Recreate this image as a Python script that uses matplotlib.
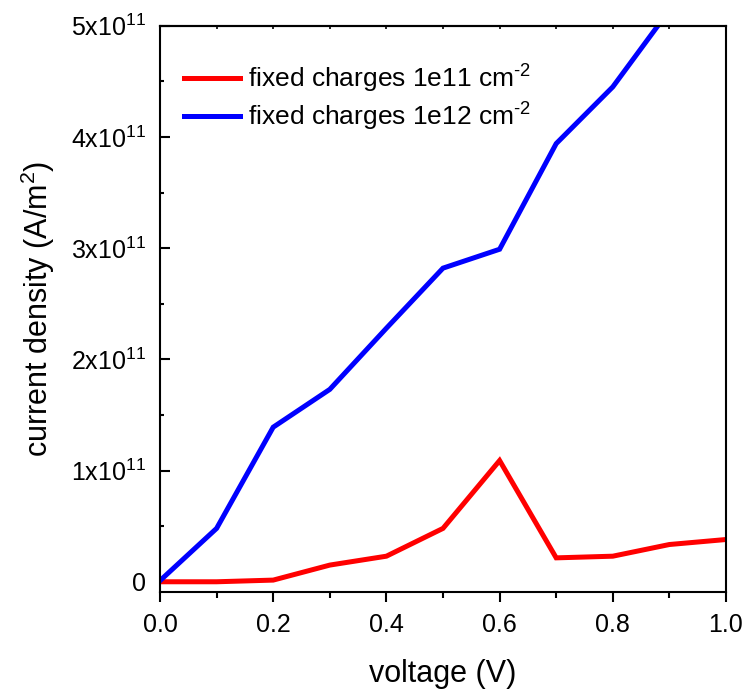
import numpy as np
import matplotlib
matplotlib.use("Agg")
import matplotlib.pyplot as plt
from matplotlib.ticker import MultipleLocator, FixedLocator

plt.rcParams['font.family'] = ['Liberation Sans', 'DejaVu Sans']
plt.rcParams['mathtext.fontset'] = 'custom'
plt.rcParams['mathtext.rm'] = 'Liberation Sans'
plt.rcParams['mathtext.it'] = 'Liberation Sans'
plt.rcParams['mathtext.default'] = 'regular'

# Data: current density vs. applied voltage
voltage = [0.0, 0.1, 0.2, 0.3, 0.4, 0.5, 0.6, 0.7, 0.8, 0.9, 1.0]
j_1e11 = [0.0, 0.0, 0.015, 0.15, 0.23, 0.48, 1.09, 0.215, 0.23, 0.335, 0.38]   # x1e11 A/m^2
j_1e12 = [0.01, 0.48, 1.39, 1.73, 2.28, 2.82, 2.99, 3.94, 4.45, 5.14, 5.9]     # x1e11 A/m^2
scale = 1e11

series_labels = [r'fixed charges 1e11 cm$^{\text{-}2}$', r'fixed charges 1e12 cm$^{\text{-}2}$']
series_colors = ['#ff0000', '#0000ff']

ytick_values = [0, 1, 2, 3, 4, 5]
ytick_labels = ['0', '1x10$^{11}$', '2x10$^{11}$', '3x10$^{11}$', '4x10$^{11}$', '5x10$^{11}$']
xtick_values = [0.0, 0.2, 0.4, 0.6, 0.8, 1.0]
xtick_labels = ['0.0', '0.2', '0.4', '0.6', '0.8', '1.0']

fig = plt.figure(figsize=(7.46, 6.89), dpi=100)
ax = fig.add_axes([160/746, 1 - 592/689, (726 - 160)/746, (592 - 25.7)/689])

v = np.array(voltage)
for vals, lab, col in zip([j_1e11, j_1e12], series_labels, series_colors):
    ax.plot(v, np.array(vals) * scale, color=col, lw=3.6, label=lab,
            solid_joinstyle='miter', clip_on=True)

ax.set_xlim(0, 1.0)
ax.set_ylim(-0.092 * scale, 5.0 * scale)

ax.xaxis.set_major_locator(FixedLocator(xtick_values))
ax.set_xticklabels(xtick_labels)
ax.xaxis.set_minor_locator(MultipleLocator(0.1))
ax.yaxis.set_major_locator(FixedLocator([t * scale for t in ytick_values]))
ax.set_yticklabels(ytick_labels)
ax.yaxis.set_minor_locator(MultipleLocator(0.5 * scale))

for sp in ax.spines.values():
    sp.set_linewidth(1.5)

ax.tick_params(axis='x', which='major', direction='out', length=7, width=1.5,
               labelsize=18, pad=8)
ax.tick_params(axis='x', which='minor', direction='out', length=4, width=1.5)
ax.tick_params(axis='y', which='major', direction='in', length=7, width=1.5,
               labelsize=18, pad=10)
ax.tick_params(axis='y', which='minor', direction='in', length=3, width=1.5)

top = ax.secondary_xaxis('top')
top.set_xticks(np.arange(0, 1.01, 0.1))
top.tick_params(direction='in', length=2.5, width=1.2, labeltop=False)
top.spines['top'].set_linewidth(1.5)

ax.set_xlabel('voltage (V)', fontsize=22, labelpad=16)
ax.set_ylabel('current density (A/m$^2$)', fontsize=22, labelpad=10)

ax.legend(loc='upper left', frameon=False, fontsize=19, handlelength=2.15,
          handletextpad=0.3, labelspacing=0.22, borderaxespad=0.5,
          bbox_to_anchor=(0.0, 0.977))

fig.savefig('out.png', dpi=100)
